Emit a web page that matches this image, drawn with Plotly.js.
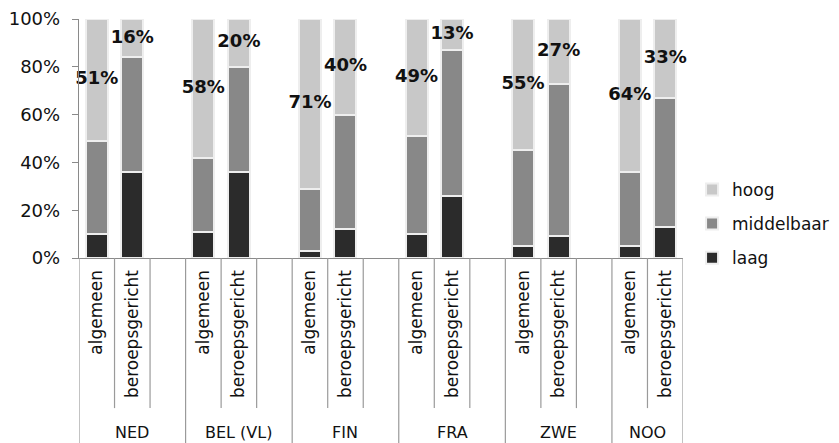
<!DOCTYPE html>
<html>
<head>
<meta charset="utf-8">
<script src="https://cdn.plot.ly/plotly-3.0.1.min.js"></script>
<style>html,body{margin:0;padding:0;background:#fff;}#chart{width:839px;height:443px;}</style>
</head>
<body>
<div id="chart"></div>
<script>
// Data
const groups = ['NED', 'BEL (VL)', 'FIN', 'FRA', 'ZWE', 'NOO'];
const types = ['algemeen', 'beroepsgericht'];
const laag = [10, 36, 11, 36, 3, 12, 10, 26, 5, 9, 5, 13];
const middelbaar = [39, 48, 31, 44, 26, 48, 41, 61, 40, 64, 31, 54];
const hoog = [51, 16, 58, 20, 71, 40, 49, 13, 55, 27, 64, 33];
const yTickVals = [0, 20, 40, 60, 80, 100];
const yTickText = ['0%', '20%', '40%', '60%', '80%', '100%'];
const seriesNames = ['laag', 'middelbaar', 'hoog'];
const seriesColors = ['#2b2b2b', '#888888', '#c8c8c8'];

// Slot layout: each group has 2 bars + one blank slot (no blank after the last group)
const slots = [];
const tickText = [];
groups.forEach((g, gi) => {
  types.forEach((t, ti) => {
    slots.push(gi * 3 + ti);
    tickText.push(t);
  });
});
const nSlots = groups.length * 3 - 1;

const FONT = 'DejaVu Sans, Verdana, sans-serif';
const series = [laag, middelbaar, hoog];
const traces = series.map((vals, si) => ({
  type: 'bar',
  x: slots,
  y: vals,
  name: seriesNames[si],
  legendgroup: seriesNames[si],
  legendrank: 3 - si,
  width: 0.62,
  marker: {color: seriesColors[si], line: {color: '#eeeeee', width: 2}},
  hoverinfo: 'skip'
}));

// hoog labels centered in their segments
traces.push({
  type: 'scatter',
  mode: 'text',
  x: slots,
  y: hoog.map((h, i) => laag[i] + middelbaar[i] + h / 2),
  text: hoog.map(h => h + '%'),
  textposition: 'middle center',
  textfont: {family: FONT, size: 18, color: '#111', weight: 'bold'},
  showlegend: false,
  hoverinfo: 'skip',
  cliponaxis: false
});

// Category axis divider lines and group labels
const shortBottom = -0.628, longBottom = -0.78;
const shapes = [];
for (let k = 0; k <= nSlots; k++) {
  const isGroupEdge = (k % 3 === 0) || k === nSlots;
  shapes.push({
    type: 'line', xref: 'x', yref: 'paper',
    x0: k - 0.5, x1: k - 0.5, y0: 0, y1: isGroupEdge ? longBottom : shortBottom,
    line: {color: '#9a9a9a', width: 1.2}
  });
}
const annotations = groups.map((g, gi) => {
  const start = gi * 3 - 0.5;
  const end = Math.min(gi * 3 + 2.5, nSlots - 0.5);
  return {
    xref: 'x', yref: 'paper', x: (start + end) / 2, y: -0.732,
    text: g, showarrow: false, xanchor: 'center', yanchor: 'middle',
    font: {family: FONT, size: 16, color: '#111'}
  };
});

const layout = {
  width: 839, height: 443,
  margin: {l: 79, r: 156, t: 19, b: 185, autoexpand: false},
  paper_bgcolor: '#ffffff', plot_bgcolor: '#ffffff',
  barmode: 'stack',
  showlegend: true,
  font: {family: FONT, color: '#111'},
  xaxis: {
    range: [-0.5, nSlots - 0.5],
    tickvals: slots, ticktext: tickText, tickangle: -90,
    tickfont: {family: FONT, size: 17, color: '#111'},
    showgrid: false, zeroline: false, showline: true, linecolor: '#8a8a8a', linewidth: 1.2,
    ticks: '', ticklabelstandoff: 4, fixedrange: true, automargin: false
  },
  yaxis: {
    range: [0, 100], tickmode: 'array', tickvals: yTickVals, ticktext: yTickText,
    tickfont: {family: FONT, size: 18, color: '#111'},
    showgrid: false, zeroline: false, showline: true, linecolor: '#8a8a8a', linewidth: 1.2,
    ticks: 'outside', ticklen: 6, tickcolor: '#8a8a8a', ticklabelstandoff: 8, fixedrange: true, automargin: false
  },
  legend: {
    x: 1.015, xanchor: 'left', y: 0.36, yanchor: 'top',
    traceorder: 'grouped', tracegroupgap: 9,
    font: {family: FONT, size: 17, color: '#111'},
    itemwidth: 30, bgcolor: 'rgba(0,0,0,0)'
  },
  shapes: shapes,
  annotations: annotations
};

Plotly.newPlot('chart', traces, layout, {displayModeBar: false, staticPlot: true});
</script>
</body>
</html>
